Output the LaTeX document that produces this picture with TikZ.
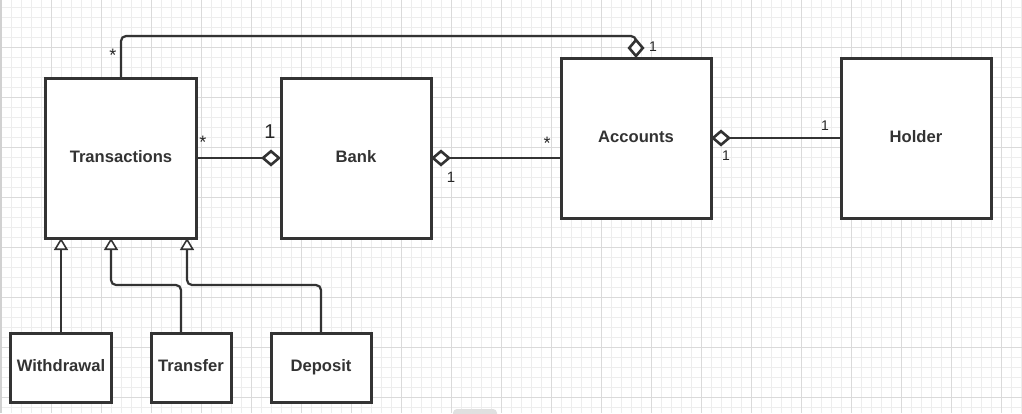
\documentclass[tikz,border=0pt]{standalone}
\usepackage{fontspec}
\setmainfont{Liberation Sans}
\newfontfamily\lab{Liberation Sans}
\usetikzlibrary{arrows.meta,calc}
\definecolor{ink}{HTML}{333333}
\definecolor{minorg}{HTML}{EDEDED}
\definecolor{majorg}{HTML}{DADADA}
\tikzset{
  AggD/.tip={Diamond[fill=white, length=20bp, width=17bp, line width=2.6bp]},
  GenT/.tip={Triangle[fill=white, length=12bp, width=14bp, line width=1.6bp]},
  cls/.style={draw=ink, line width=3bp, fill=white, inner sep=0pt, outer sep=0pt,
    text=ink, font=\fontsize{16.6bp}{18bp}\selectfont\bfseries, minimum height=160bp,
    text height=12bp, text depth=4bp},
  subcls/.style={cls, minimum height=69bp},
  conn/.style={draw=ink, line width=2.2bp},
  mult/.style={text=black!85, font=\lab\fontsize{14bp}{16bp}\selectfont, inner sep=0pt},
  star/.style={mult, font=\lab\fontsize{18bp}{20bp}\selectfont},
  minorgrid/.style={draw=minorg, line width=1bp},
  majorgrid/.style={draw=majorg, line width=1.2bp}
}
\begin{document}
\begin{tikzpicture}[x=1bp,y=-1bp]
\useasboundingbox (0,0) rectangle (1022,413);
\fill[white] (0,0) rectangle (1022,413);
% grid
\foreach \i in {0,...,102} \draw[minorgrid] ({1.7+10*\i},0) -- ++(0,413);
\foreach \j in {0,...,40} \draw[minorgrid] (0,{7.5+10*\j}) -- ++(1022,0);
\foreach \i in {0,...,20} \draw[majorgrid] ({1.7+50*\i},0) -- ++(0,413);
\foreach \j in {0,...,8} \draw[majorgrid] (0,{47.5+50*\j}) -- ++(1022,0);
\draw[draw=black!18, line width=2bp] (1,0) -- (1,413);
\fill[black!12, rounded corners=4bp] (453,409) rectangle (497,418);

% classes
\node[cls, minimum width=150bp] (trans) at (121,158) {Transactions};
\node[cls, minimum width=150bp] (bank) at (356,158) {Bank};
\node[cls, minimum width=150bp] (acc) at (636,138) {Accounts};
\node[cls, minimum width=150bp] (holder) at (916,138) {Holder};
\node[subcls, minimum width=100bp] (with) at (61,367.5) {Withdrawal};
\node[subcls, minimum width=80bp] (transfer) at (191,367.5) {Transfer};
\node[subcls, minimum width=100bp] (deposit) at (321,367.5) {Deposit};

% associations
\draw[conn, -AggD] (trans.east) -- (bank.west);
\draw[conn, AggD-] (bank.east) -- (bank.east -| acc.west);
\draw[conn, AggD-] (acc.east) -- (holder.west);
\coordinate (tl) at (trans.north |- 0,36);
\coordinate (tr) at (acc.north |- 0,36);
\draw[conn, rounded corners=5bp, -AggD] (trans.north) -- (tl) -- (tr) -- (acc.north);

% generalizations
\draw[conn, -GenT] (with.north) -- (with.north |- trans.south);
\coordinate (tfs) at ($(transfer.north)+(-10,0)$);
\coordinate (tfm) at (tfs |- 0,285);
\coordinate (tfe) at (111,285);
\draw[conn, rounded corners=5bp, -GenT] (tfs) -- (tfm) -- (tfe) -- (tfe |- trans.south);
\coordinate (dpm) at (deposit.north |- 0,285);
\coordinate (dpe) at (187,285);
\draw[conn, rounded corners=5bp, -GenT] (deposit.north) -- (dpm) -- (dpe) -- (dpe |- trans.south);

% multiplicities
\node[star] at (113,55) {*};
\node[star] at (203,142) {*};
\node[mult, font=\lab\fontsize{20bp}{22bp}\selectfont] at (270,132) {1};
\node[mult, font=\lab\fontsize{15bp}{17bp}\selectfont] at (451,177) {1};
\node[star] at (547,143) {*};
\node[mult] at (653,47) {1};
\node[mult] at (726,156) {1};
\node[mult] at (825,126) {1};
\end{tikzpicture}
\end{document}
